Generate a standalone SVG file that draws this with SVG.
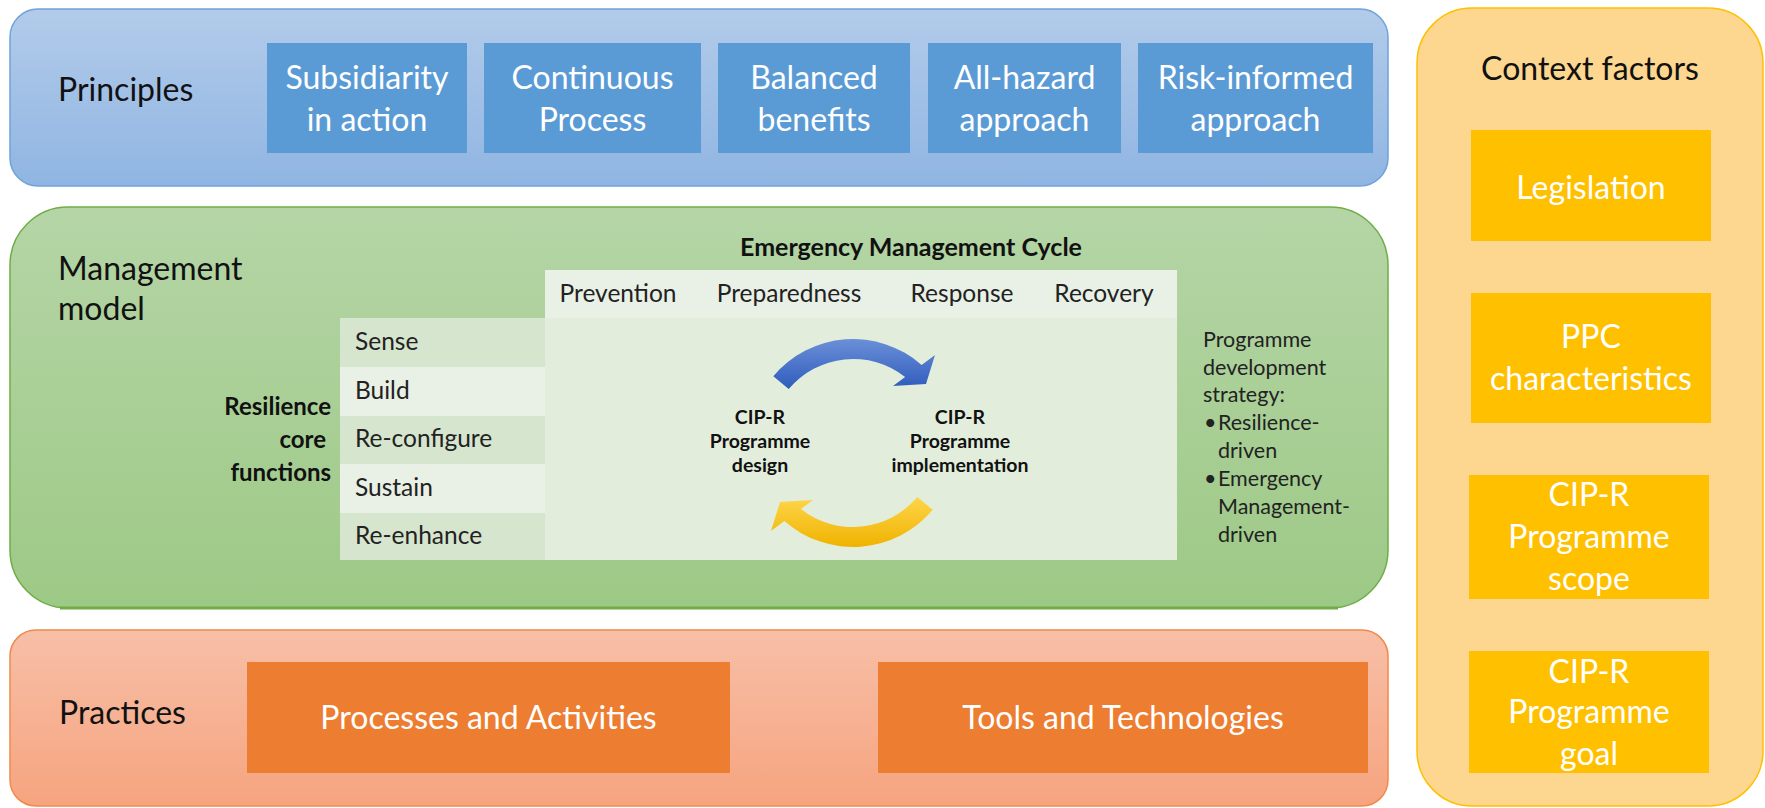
<svg xmlns="http://www.w3.org/2000/svg" width="1765" height="808" viewBox="0 0 1765 808">
<defs>
<linearGradient id="gBlue" x1="0" y1="0" x2="0" y2="1"><stop offset="0" stop-color="#b2cbea"/><stop offset="1" stop-color="#90b5e2"/></linearGradient>
<linearGradient id="gGreen" x1="0" y1="0" x2="0" y2="1"><stop offset="0" stop-color="#b5d5a6"/><stop offset="1" stop-color="#9dc986"/></linearGradient>
<linearGradient id="gOrange" x1="0" y1="0" x2="0" y2="1"><stop offset="0" stop-color="#f7bfa7"/><stop offset="1" stop-color="#f6a47f"/></linearGradient>
<linearGradient id="gArrowBlue" x1="0" y1="0" x2="0" y2="1"><stop offset="0" stop-color="#6b8fd8"/><stop offset="1" stop-color="#2f5cbc"/></linearGradient>
<linearGradient id="gArrowYellow" x1="0" y1="0" x2="0" y2="1"><stop offset="0" stop-color="#ffd54a"/><stop offset="1" stop-color="#efb300"/></linearGradient>
</defs>
<style>
text{font-family:Lato,"Liberation Sans",sans-serif;}
.lbl{font-size:32px;fill:#111;}
.box{font-size:32px;fill:#fff;text-anchor:middle;}
.pbox{fill:#5b9bd5;}
.obox{fill:#ed7d31;}
.ybox{fill:#ffc000;}
.cell{font-size:24.5px;fill:#222;}
.hdr{font-size:24.5px;fill:#222;text-anchor:middle;}
.bold{font-weight:bold;fill:#111;}
.strat{font-size:21.5px;fill:#222;}
</style>

<g id="principles">
<rect x="10" y="9" width="1378" height="177" rx="28" fill="url(#gBlue)" stroke="#6fa3d9" stroke-width="1.5"/>
<text class="lbl" x="58" y="101">Principles</text>
</g>
<g id="p-subsidiarity"><rect class="pbox" x="267" y="43" width="200" height="110"/><text class="box" x="367" y="89">Subsidiarity</text><text class="box" x="367" y="131">in action</text></g>
<g id="p-continuous"><rect class="pbox" x="484" y="43" width="217" height="110"/><text class="box" x="592.5" y="89">Continuous</text><text class="box" x="592.5" y="131">Process</text></g>
<g id="p-balanced"><rect class="pbox" x="718" y="43" width="192" height="110"/><text class="box" x="814" y="89">Balanced</text><text class="box" x="814" y="131">benefits</text></g>
<g id="p-allhazard"><rect class="pbox" x="928" y="43" width="193" height="110"/><text class="box" x="1024.5" y="89">All-hazard</text><text class="box" x="1024.5" y="131">approach</text></g>
<g id="p-risk"><rect class="pbox" x="1138" y="43" width="235" height="110"/><text class="box" x="1255.5" y="89">Risk-informed</text><text class="box" x="1255.5" y="131">approach</text></g>

<g id="management">
<rect x="10" y="207" width="1378" height="401" rx="58" fill="url(#gGreen)" stroke="#70ad47" stroke-width="1.5"/>
<line x1="60" y1="608" x2="1338" y2="608" stroke="#70ad47" stroke-width="3"/>
<text class="lbl" x="58" y="280">Management</text>
<text class="lbl" x="58" y="320">model</text>
</g>

<g id="em-cycle">
<text class="bold" x="911" y="256" font-size="25" text-anchor="middle">Emergency Management Cycle</text>
<rect x="545" y="270" width="632" height="48" fill="#e9f0e5"/>
<rect x="545" y="318" width="632" height="242" fill="#e2eedb"/>
<text class="hdr" x="618" y="302">Prevention</text>
<text class="hdr" x="789" y="302">Preparedness</text>
<text class="hdr" x="962" y="302">Response</text>
<text class="hdr" x="1104" y="302">Recovery</text>
</g>

<g id="core-functions">
<text class="bold" x="331" y="415" font-size="24" text-anchor="end">Resilience</text>
<text class="bold" x="326" y="448" font-size="24" text-anchor="end">core</text>
<text class="bold" x="331" y="481" font-size="24" text-anchor="end">functions</text>
<rect x="340" y="318" width="205" height="49" fill="#d6e5ce"/>
<rect x="340" y="367" width="205" height="49" fill="#e9f0e5"/>
<rect x="340" y="416" width="205" height="48" fill="#d6e5ce"/>
<rect x="340" y="464" width="205" height="49" fill="#e9f0e5"/>
<rect x="340" y="513" width="205" height="47" fill="#d6e5ce"/>
<text class="cell" x="355" y="350">Sense</text>
<text class="cell" x="355" y="399">Build</text>
<text class="cell" x="355" y="447">Re-configure</text>
<text class="cell" x="355" y="496">Sustain</text>
<text class="cell" x="355" y="544">Re-enhance</text>
</g>

<g id="design">
<text class="bold" x="760" y="424" font-size="19.5" text-anchor="middle">CIP-R</text>
<text class="bold" x="760" y="448" font-size="19.5" text-anchor="middle">Programme</text>
<text class="bold" x="760" y="472" font-size="19.5" text-anchor="middle">design</text>
</g>
<g id="implementation">
<text class="bold" x="960" y="424" font-size="19.5" text-anchor="middle">CIP-R</text>
<text class="bold" x="960" y="448" font-size="19.5" text-anchor="middle">Programme</text>
<text class="bold" x="960" y="472" font-size="19.5" text-anchor="middle">implementation</text>
</g>

<g id="connectors">
<path d="M773.3,376.2 A104,104 0 0,1 921.6,364.9 L935,355 L926,384 L893,386 L905.1,377.1 A84,84 0 0,0 788.7,389 Z" fill="url(#gArrowBlue)"/>
<path d="M932.7,509.8 A104,104 0 0,1 784.4,521.1 L771,531 L780,502 L813,500 L800.9,508.9 A84,84 0 0,0 917.3,497 Z" fill="url(#gArrowYellow)"/>
</g>

<g id="strategy">
<text class="strat" x="1203" y="347">Programme</text>
<text class="strat" x="1203" y="375">development</text>
<text class="strat" x="1203" y="402">strategy:</text>
<text class="strat" x="1204" y="430">•</text><text class="strat" x="1218" y="430">Resilience-</text>
<text class="strat" x="1218" y="458">driven</text>
<text class="strat" x="1204" y="486">•</text><text class="strat" x="1218" y="486">Emergency</text>
<text class="strat" x="1218" y="514">Management-</text>
<text class="strat" x="1218" y="542">driven</text>
</g>

<g id="practices">
<rect x="10" y="630" width="1378" height="176" rx="26" fill="url(#gOrange)" stroke="#f08a4b" stroke-width="1.5"/>
<text class="lbl" x="59" y="724">Practices</text>
</g>
<g id="pr-processes"><rect class="obox" x="247" y="662" width="483" height="111"/><text class="box" x="488.5" y="729">Processes and Activities</text></g>
<g id="pr-tools"><rect class="obox" x="878" y="662" width="490" height="111"/><text class="box" x="1123" y="729">Tools and Technologies</text></g>

<g id="context">
<rect x="1417" y="8" width="346" height="798" rx="55" fill="#fdd78f" stroke="#ffc000" stroke-width="1.5"/>
<text class="lbl" x="1590" y="80" text-anchor="middle">Context factors</text>
</g>
<g id="c-legislation"><rect class="ybox" x="1471" y="130" width="240" height="111"/><text class="box" x="1591" y="199">Legislation</text></g>
<g id="c-ppc"><rect class="ybox" x="1471" y="293" width="240" height="130"/><text class="box" x="1591" y="348">PPC</text><text class="box" x="1591" y="390">characteristics</text></g>
<g id="c-scope"><rect class="ybox" x="1469" y="475" width="240" height="124"/><text class="box" x="1589" y="506">CIP-R</text><text class="box" x="1589" y="548">Programme</text><text class="box" x="1589" y="590">scope</text></g>
<g id="c-goal"><rect class="ybox" x="1469" y="651" width="240" height="122"/><text class="box" x="1589" y="683">CIP-R</text><text class="box" x="1589" y="723">Programme</text><text class="box" x="1589" y="765">goal</text></g>
</svg>
